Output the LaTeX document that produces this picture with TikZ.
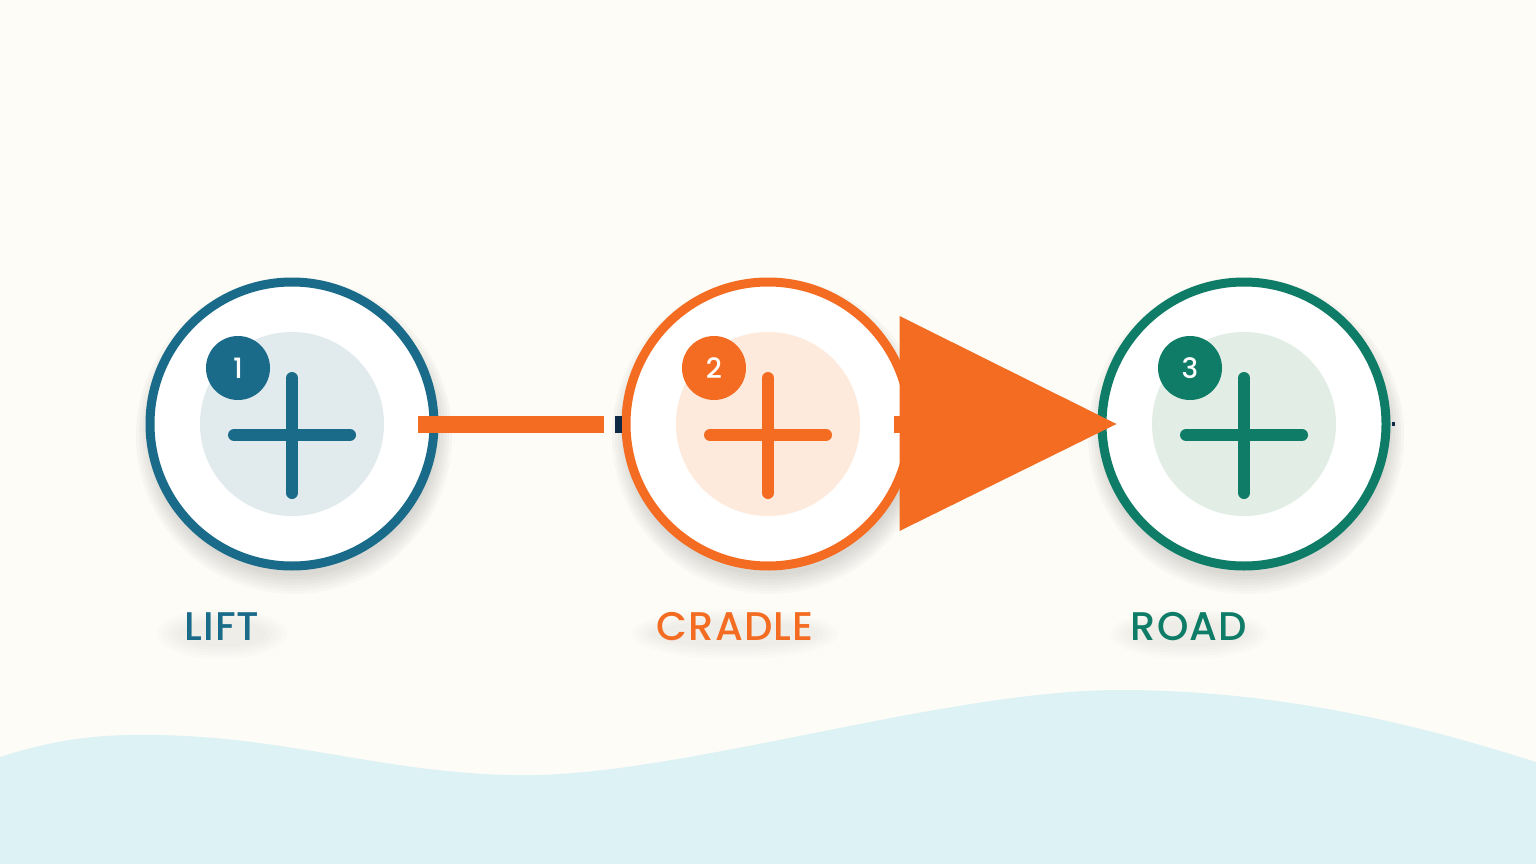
\documentclass[tikz,border=0pt]{standalone}
\usepackage{fontspec}
\usetikzlibrary{calc}
\newfontfamily\labfont{Poppins}[UprightFont={* Medium},LetterSpace=3]
\newfontfamily\numfont{Poppins}[UprightFont={* Medium}]
\definecolor{bg}{HTML}{FDFCF7}
\definecolor{wave}{HTML}{DCF2F5}
\definecolor{cblue}{HTML}{1A6B8A}
\definecolor{corange}{HTML}{F36C21}
\definecolor{cgreen}{HTML}{0E7C66}
\definecolor{lblue}{HTML}{E1EAEC}
\definecolor{lorange}{HTML}{FDEADC}
\definecolor{lgreen}{HTML}{E1EDE5}
\definecolor{navy}{HTML}{0E2A47}
\definecolor{shade}{HTML}{5A5F66}
\tikzset{
  ring/.style={circle, draw=#1, line width=9pt, fill=white, minimum size=284pt, inner sep=0pt},
  inner/.style={circle, fill=#1, minimum size=184pt, inner sep=0pt},
  plusline/.style={draw=#1, line width=12pt, line cap=round},
  badge/.style={circle, fill=#1, minimum size=64pt, inner sep=0pt, text=white, font=\numfont\fontsize{28}{28}\selectfont},
  steplabel/.style={text=#1, font=\labfont\fontsize{40}{40}\selectfont, inner sep=0pt, anchor=base},
}
\begin{document}
\begin{tikzpicture}[x=1pt,y=-1pt]
\useasboundingbox (0,0) rectangle (1536,864);
\fill[bg] (0,0) rectangle (1536,864);
\fill[wave] (0,757) .. controls (60,738) and (100,734) .. (160,735)
  .. controls (300,738) and (400,778) .. (540,775)
  .. controls (700,770) and (950,690) .. (1120,690)
  .. controls (1300,690) and (1450,735) .. (1536,762) -- (1536,864) -- (0,864) -- cycle;

% soft shadows
\foreach \cx in {292,768,1244}{
  \foreach \r in {140,143,...,158}{
    \fill[shade, opacity=0.018] (\cx+2,436) circle[radius=\r];
  }
}
\foreach \cx/\w in {222/40,735/78,1189/54}{
  \foreach \r in {1,...,5}{
    \fill[shade, opacity=0.006] (\cx,634) ellipse[x radius=\w+5*\r, y radius=10+3*\r];
  }
}

% nodes
\node[ring=cblue] (lift) at (292,424) {};
\node[ring=corange] (cradle) at (768,424) {};
\node[ring=cgreen] (road) at (1244,424) {};

\foreach \n/\c/\l in {lift/cblue/lblue, cradle/corange/lorange, road/cgreen/lgreen}{
  \node[inner=\l] (\n-in) at (\n) {};
  \draw[plusline=\c] ($(\n)+(0,-46)$) -- ($(\n)+(0,69)$);
  \draw[plusline=\c] ($(\n)+(-58,11)$) -- ($(\n)+(58,11)$);
}
\node[badge=cblue] (b1) at ($(lift)+(-54,-56)$) {1};
\node[badge=corange] (b2) at ($(cradle)+(-54,-56)$) {2};
\node[badge=cgreen] (b3) at ($(road)+(-54,-56)$) {3};

% labels
\node[steplabel=cblue] (l1) at (222,640) {LIFT};
\node[steplabel=corange] (l2) at (735,640) {CRADLE};
\node[steplabel=cgreen] (l3) at (1189,640) {ROAD};

% connectors
\fill[corange] ($(lift.east)+(-21,-8.5)$) rectangle ($(lift.east)+(165,8.5)$);
\fill[navy] ($(cradle.west)+(-7,-8.5)$) rectangle ($(cradle.west)+(0,8.5)$);
\fill[corange] ($(cradle.east)+(-21,-8.5)$) rectangle ($(cradle.east)+(-13,8.5)$);
\coordinate (tip) at ($(road.west)+(19,0)$);
\fill[corange] ($(cradle.east)+(-15,-108)$) -- (tip) -- ($(cradle.east)+(-15,107)$) -- cycle;
\fill[navy] ($(road.east)+(1,-2)$) rectangle ($(road.east)+(4,2)$);
\end{tikzpicture}
\end{document}
